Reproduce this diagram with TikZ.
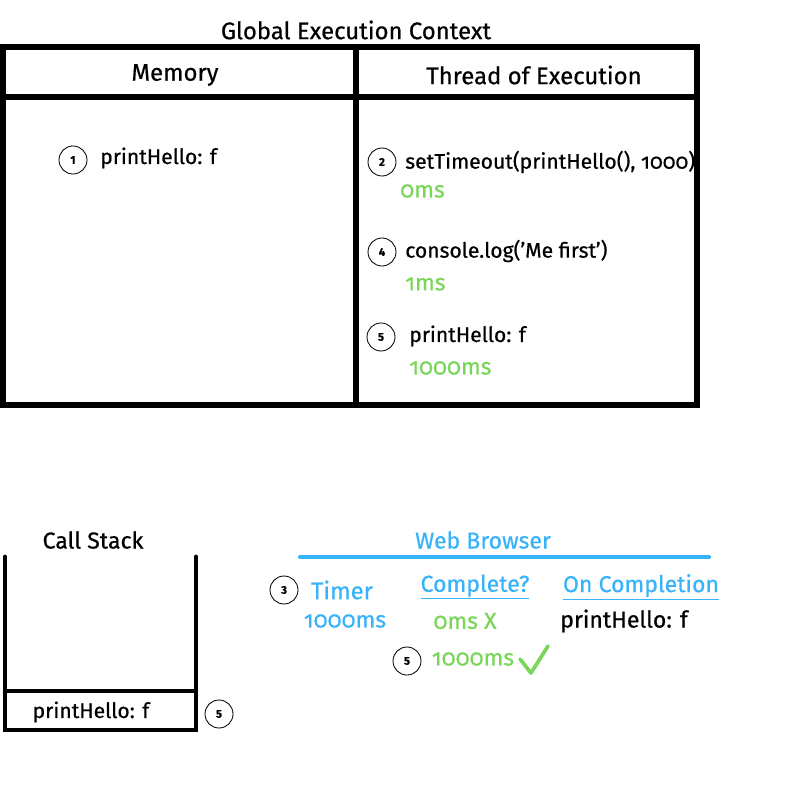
\documentclass[tikz,border=0pt]{standalone}
\usepackage{fontspec}
\setmainfont{Fira Sans}[Numbers=OldStyle, FakeBold=0.6]
\usetikzlibrary{positioning}
\definecolor{webblue}{RGB}{56,178,248}
\definecolor{timegreen}{RGB}{122,214,88}

\begin{document}
\begin{tikzpicture}[x=0.025cm, y=-0.025cm,
    txt/.style={font=\fontsize{15}{18}\selectfont, inner sep=0pt},
    head/.style={txt, font=\fontsize{17}{20}\selectfont},
    sub/.style={txt, font=\fontsize{16.4}{19}\selectfont},
    lefttxt/.style={txt, anchor=west},
    num/.style={draw, circle, line width=0.6pt, minimum size=0.7cm, inner sep=0pt, font=\fontsize{8}{9}\selectfont\bfseries\addfontfeatures{Numbers=Lining}},
    box/.style={line width=4.3pt},
    stack/.style={line width=3.5pt, line cap=round}]
    \useasboundingbox (0,0) rectangle (800,800);

    % Global execution context
    \node[head] (gec) at (356,30) {Global Execution Context};
    \draw[box] (3,47) rectangle (697,405);
    \draw[box] (3,97) -- (697,97);
    \draw[box] (356,47) -- (356,405);
    \node[head] (memory) at (175,75) {Memory};
    \node[head] (thread) at (534,75) {Thread of Execution};

    % Memory
    \node[num] (n1) at (73,160) {1};
    \node[lefttxt] (mem1) at (100,158) {printHello: f};

    % Thread of execution
    \node[num] (n2) at (382,162) {2};
    \node[lefttxt] (line2) at (405,162) {setTimeout(printHello(), 1000)};
    \node[sub, anchor=west, text=timegreen] (t2) at (400,191) {0ms};
    \node[num] (n4) at (382,252) {4};
    \node[lefttxt] (line4) at (405,251) {console.log('Me first')};
    \node[sub, anchor=west, text=timegreen] (t4) at (405,284) {1ms};
    \node[num] (n5) at (381,337) {5};
    \node[lefttxt] (line5) at (409,336) {printHello: f};
    \node[sub, anchor=west, text=timegreen] (t5) at (409,368) {1000ms};

    % Call stack
    \node[sub] (callstack) at (93,540) {Call Stack};
    \draw[stack] (5,557) -- (5,730) -- (196,730) -- (196,557);
    \draw[stack, line width=3pt] (5,691) -- (196,691);
    \node[txt] (frame) at (91,712) {printHello: f};
    \node[num] (n5c) at (219,714) {5};

    % Web browser
    \node[sub, text=webblue] (web) at (483,540) {Web Browser};
    \draw[webblue, line width=3pt, line cap=round] (300,557) -- (709,557);
    \node[num] (n3) at (284,590) {3};
    \node[head, text=webblue] (timer) at (342,590) {Timer};
    \node[sub, text=webblue] (complete) at (475,587) {\underline{Complete?}};
    \node[sub, text=webblue] (oncomp) at (641,587) {\underline{On Completion}};
    \node[sub, text=webblue] (timerval) at (345,621) {1000ms};
    \node[sub, text=timegreen] (notdone) at (465,621) {0ms X};
    \node[sub] (callback) at (624,621) {printHello: f};
    \node[num] (n5b) at (407,661) {5};
    \node[sub, text=timegreen] (done) at (473,659) {1000ms};
    \draw[timegreen, line width=2.6pt, line cap=round, line join=round]
        (520,659) -- (531,673) -- (548,646);
\end{tikzpicture}
\end{document}
